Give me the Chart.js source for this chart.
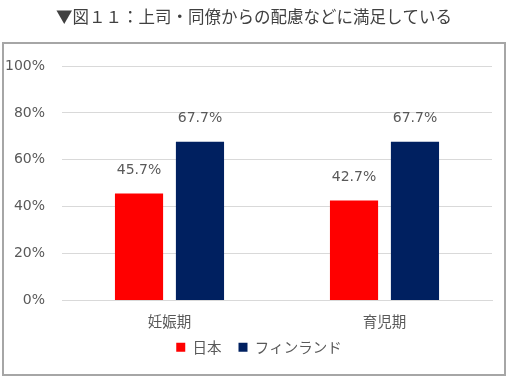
<!DOCTYPE html>
<html>
<head>
<meta charset="utf-8">
<script src="https://cdn.jsdelivr.net/npm/chart.js@4"></script>
<style>
  html, body { margin: 0; padding: 0; background: #fff; }
  canvas { display: block; }
</style>
</head>
<body>
<canvas id="chart" width="508" height="378"></canvas>
<script>
const categories = ['妊娠期', '育児期'];
const japan = [45.7, 42.7];
const finland = [67.7, 67.7];
const seriesNames = ['日本', 'フィンランド'];
const yTicks = [0, 20, 40, 60, 80, 100];

const CJK = '"Noto Sans CJK JP", "Noto Sans", sans-serif';
const NUM = '"DejaVu Sans", "Noto Sans CJK JP", sans-serif';

// frame + title drawn by hand, like the excel export
const framePlugin = {
  id: 'frame',
  beforeInit(chart) {
    const lg = chart.legend;
    if (lg) {
      const fit = lg.fit;
      lg.fit = function () { fit.call(this); this.height = 44; };
    }
  },
  afterLayout(chart) {
    // nudge legend: centred a bit right of canvas centre, fixed row position
    const lg = chart.legend;
    if (!lg) return;
    lg.left += 13; lg.right += 13;
    const dy = 323 - lg.top;
    lg.top += dy; lg.bottom += dy;
  },
  beforeDraw(chart) {
    const c = chart.ctx;
    c.save();
    c.fillStyle = '#fff';
    c.fillRect(0, 0, chart.width, chart.height);
    c.strokeStyle = '#a6a6a6';
    c.lineWidth = 2;
    c.strokeRect(3, 43, 502, 332);
    c.fillStyle = '#404040';
    c.font = '16.5px ' + CJK;
    c.textAlign = 'center';
    c.textBaseline = 'middle';
    c.fillText('▼図１１：上司・同僚からの配慮などに満足している', 254, 17);
    c.restore();
  }
};

// value labels over the bars
const valueLabels = {
  id: 'valueLabels',
  afterDatasetsDraw(chart) {
    const c = chart.ctx;
    c.save();
    c.fillStyle = '#595959';
    c.font = '14px ' + NUM;
    c.textAlign = 'center';
    c.textBaseline = 'middle';
    chart.data.datasets.forEach((ds, i) => {
      chart.getDatasetMeta(i).data.forEach((bar, j) => {
        c.fillText(ds.data[j].toFixed(1) + '%', bar.x, bar.y - 23);
      });
    });
    c.restore();
  }
};

new Chart(document.getElementById('chart'), {
  type: 'bar',
  data: {
    labels: categories,
    datasets: [
      { label: seriesNames[0], data: japan, backgroundColor: '#ff0000' },
      { label: seriesNames[1], data: finland, backgroundColor: '#002060' }
    ]
  },
  options: {
    responsive: false,
    animation: false,
    devicePixelRatio: 1,
    categoryPercentage: 0.567,
    barPercentage: 0.79,
    layout: { padding: { left: 0, right: 16, top: 66, bottom: 0 } },
    scales: {
      y: {
        min: 0,
        max: 100,
        afterFit(scale) { scale.width = 62; },
        afterBuildTicks(scale) { scale.ticks = yTicks.map(v => ({ value: v })); },
        ticks: {
          padding: 17,
          color: '#595959',
          font: { family: NUM, size: 14 },
          callback: v => v + '%'
        },
        grid: { color: '#d9d9d9', drawTicks: false },
        border: { display: false }
      },
      x: {
        ticks: {
          padding: 4,
          color: '#595959',
          font: { family: CJK, size: 14.5 }
        },
        grid: { display: false },
        border: { color: '#d9d9d9' }
      }
    },
    plugins: {
      title: { display: false },
      tooltip: { enabled: false },
      legend: {
        position: 'bottom',
        labels: {
          boxWidth: 9,
          boxHeight: 9,
          padding: 17,
          color: '#595959',
          font: { family: CJK, size: 14.5 }
        }
      }
    }
  },
  plugins: [framePlugin, valueLabels]
});
</script>
</body>
</html>
